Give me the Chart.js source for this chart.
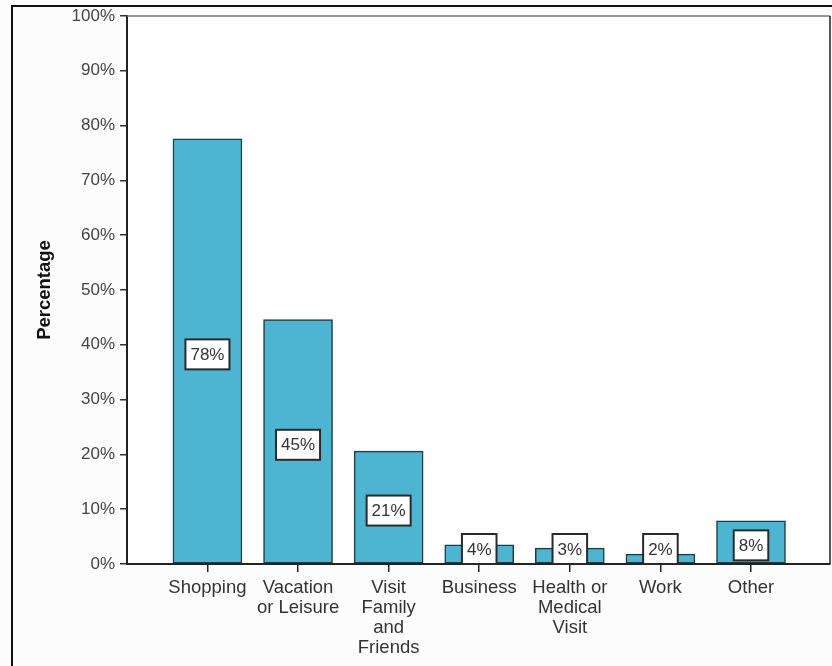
<!DOCTYPE html>
<html>
<head>
<meta charset="utf-8">
<script src="https://cdn.jsdelivr.net/npm/chart.js@4/dist/chart.umd.min.js"></script>
<style>
  html, body { margin: 0; padding: 0; background: #fcfcfc; }
  #wrap { width: 832px; height: 666px; position: relative; }
</style>
</head>
<body>
<div id="wrap"><canvas id="chart" width="832" height="666"></canvas></div>
<script>
const categories = [
  ['Shopping'],
  ['Vacation', 'or Leisure'],
  ['Visit', 'Family', 'and', 'Friends'],
  ['Business'],
  ['Health or', 'Medical', 'Visit'],
  ['Work'],
  ['Other']
];
const percentages = [77.6, 44.6, 20.6, 3.5, 2.9, 1.8, 7.9];
const yTicks = [0, 10, 20, 30, 40, 50, 60, 70, 80, 90, 100];

const FONT = '"Liberation Sans", Arial, sans-serif';
const BAR_FILL = '#4db5d1';
const BAR_EDGE = '#1e3b40';

// frame around the whole figure plus the plot box
const framePlugin = {
  id: 'frames',
  beforeDraw(chart) {
    const { ctx, chartArea: a } = chart;
    ctx.save();
    ctx.fillStyle = '#ffffff';
    ctx.fillRect(a.left, a.top, a.right - a.left, a.bottom - a.top);
    ctx.strokeStyle = '#111';
    ctx.lineWidth = 2;
    ctx.strokeRect(12, 6, 1000, 1000);
    ctx.restore();
  },
  afterDraw(chart) {
    const { ctx, chartArea: a } = chart;
    ctx.save();
    ctx.lineWidth = 1.5;
    ctx.strokeStyle = '#777';
    ctx.beginPath();
    ctx.moveTo(a.left, a.top);
    ctx.lineTo(a.right, a.top);
    ctx.stroke();
    ctx.strokeStyle = '#222';
    ctx.beginPath();
    ctx.moveTo(a.right, a.top);
    ctx.lineTo(a.right, a.bottom);
    ctx.stroke();
    ctx.restore();
  }
};

// white boxed percentage in the middle of each bar
const boxLabels = {
  id: 'boxLabels',
  afterDatasetsDraw(chart) {
    const { ctx } = chart;
    const meta = chart.getDatasetMeta(0);
    const yScale = chart.scales.y;
    const base = yScale.getPixelForValue(0);
    ctx.save();
    ctx.font = '17px ' + FONT;
    ctx.textAlign = 'center';
    ctx.textBaseline = 'middle';
    meta.data.forEach((bar, i) => {
      const v = percentages[i];
      const text = Math.round(v) + '%';
      const w = ctx.measureText(text).width + 10;
      const h = 30;
      let cy = yScale.getPixelForValue(v / 2) + 3;
      cy = Math.min(cy, base - h / 2);
      ctx.fillStyle = '#ffffff';
      ctx.fillRect(bar.x - w / 2, cy - h / 2, w, h);
      ctx.strokeStyle = '#2a2a2a';
      ctx.lineWidth = 2;
      ctx.strokeRect(bar.x - w / 2, cy - h / 2, w, h);
      ctx.fillStyle = '#333';
      ctx.fillText(text, bar.x, cy + 1);
    });
    ctx.restore();
  }
};

new Chart(document.getElementById('chart'), {
  type: 'bar',
  data: {
    datasets: [{
      data: categories.map((c, i) => ({ x: i, y: percentages[i] })),
      backgroundColor: BAR_FILL,
      borderColor: BAR_EDGE,
      borderWidth: 1.5,
      borderSkipped: false,
      barThickness: 69
    }]
  },
  options: {
    responsive: false,
    animation: false,
    layout: { padding: { left: 0, top: 16, right: 2, bottom: 0 } },
    plugins: {
      legend: { display: false },
      tooltip: { enabled: false }
    },
    scales: {
      x: {
        type: 'linear',
        offset: false,
        min: -0.888,
        max: 6.872,
        afterBuildTicks: (axis) => {
          axis.ticks = categories.map((c, i) => ({ value: i }));
        },
        afterFit: (axis) => { axis.height = 102; },
        grid: {
          offset: false,
          drawOnChartArea: false,
          tickLength: 8,
          color: '#222',
          lineWidth: 1.5
        },
        border: { display: true, color: '#222', width: 2 },
        ticks: {
          autoSkip: false,
          maxRotation: 0,
          padding: 6,
          color: '#333',
          font: { family: FONT, size: 18.5, lineHeight: '20px' },
          callback: (v) => categories[v]
        }
      },
      y: {
        min: 0,
        max: 100,
        afterBuildTicks: (axis) => {
          axis.ticks = yTicks.map((t) => ({ value: t }));
        },
        afterFit: (axis) => { axis.width = 127; },
        grid: {
          drawOnChartArea: false,
          tickLength: 7,
          color: '#333',
          lineWidth: 1.5
        },
        border: { display: true, color: '#222', width: 2 },
        ticks: {
          padding: 5,
          color: '#444',
          font: { family: FONT, size: 17 },
          callback: (v) => v + '%'
        },
        title: {
          display: true,
          text: 'Percentage',
          color: '#111',
          padding: { top: 34, bottom: 0 },
          font: { family: FONT, size: 18.5, weight: 'bold' }
        }
      }
    }
  },
  plugins: [framePlugin, boxLabels]
});
</script>
</body>
</html>
